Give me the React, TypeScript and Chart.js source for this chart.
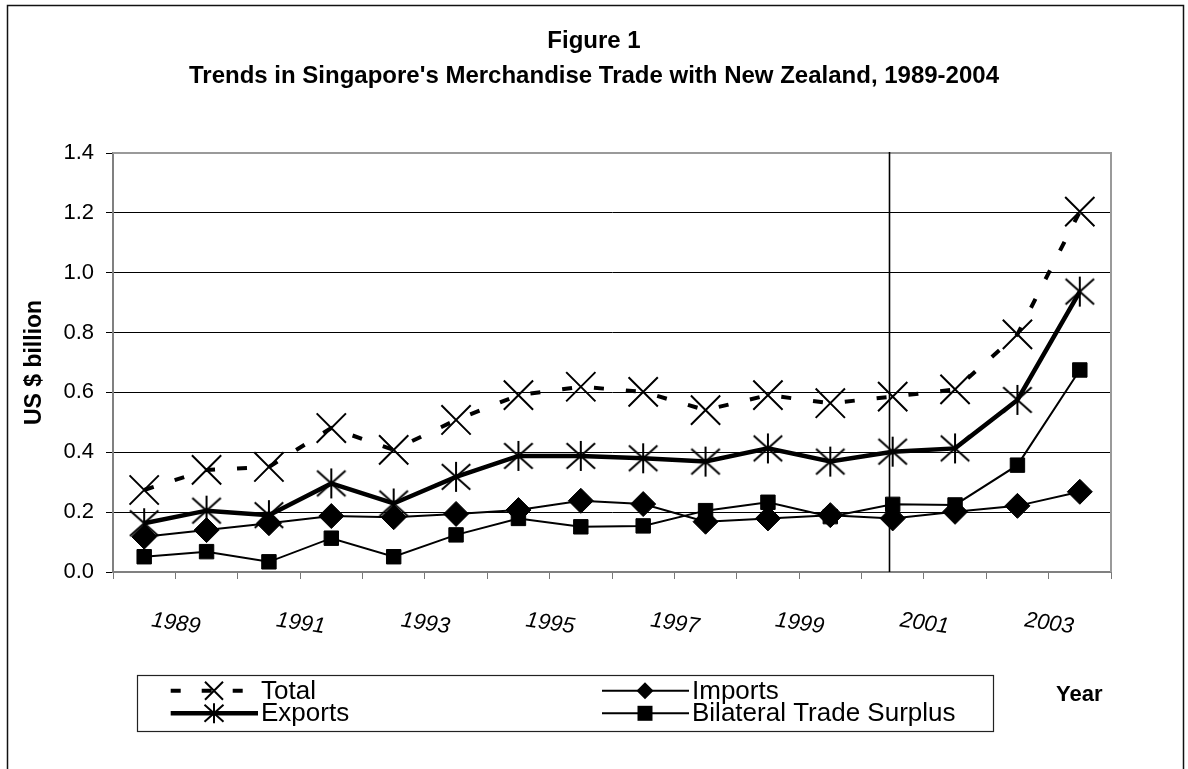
import React, { useEffect, useRef } from 'react';
import { Chart, registerables } from 'chart.js';

Chart.register(...registerables);

// ---------- data ----------
const years = ['1989', '1990', '1991', '1992', '1993', '1994', '1995', '1996', '1997', '1998', '1999', '2000', '2001', '2002', '2003', '2004'];
const totalValues = [0.274, 0.341, 0.351, 0.481, 0.408, 0.508, 0.591, 0.619, 0.602, 0.541, 0.591, 0.564, 0.586, 0.610, 0.794, 1.204];
const exportValues = [0.163, 0.205, 0.190, 0.296, 0.229, 0.318, 0.388, 0.388, 0.380, 0.369, 0.413, 0.369, 0.402, 0.413, 0.575, 0.937];
const importValues = [0.118, 0.140, 0.163, 0.187, 0.183, 0.194, 0.207, 0.238, 0.227, 0.168, 0.179, 0.190, 0.179, 0.201, 0.221, 0.268];
const surplusValues = [0.051, 0.068, 0.034, 0.113, 0.051, 0.124, 0.179, 0.151, 0.154, 0.205, 0.233, 0.185, 0.226, 0.224, 0.357, 0.675];
const seriesNames = ['Total', 'Exports', 'Imports', 'Bilateral Trade Surplus'];
const titleLines = ['Figure 1', "Trends in Singapore's Merchandise Trade with New Zealand, 1989-2004"];
const yAxisTitle = 'US $ billion';
const xAxisTitle = 'Year';
const yMin = 0;
const yMax = 1.4;
const yStep = 0.2;
const dividerIndex = 11.94; // vertical rule drawn just before 2001

const FONT = "'Liberation Sans', Arial, Helvetica, sans-serif";

function makeAsterisk(half: number, lw: number): HTMLCanvasElement {
  const size = Math.ceil(half * 2 + 4);
  const c = document.createElement('canvas');
  c.width = size;
  c.height = size;
  const ctx = c.getContext('2d')!;
  const m = size / 2;
  ctx.strokeStyle = '#000';
  ctx.lineWidth = lw;
  ctx.beginPath();
  ctx.moveTo(m, m - half);
  ctx.lineTo(m, m + half);
  ctx.moveTo(m - half * 0.95, m - half * 0.85);
  ctx.lineTo(m + half * 0.95, m + half * 0.85);
  ctx.moveTo(m + half * 0.95, m - half * 0.85);
  ctx.lineTo(m - half * 0.95, m + half * 0.85);
  ctx.stroke();
  return c;
}

function drawMarker(ctx: CanvasRenderingContext2D, kind: string, x: number, y: number, h: number) {
  ctx.save();
  ctx.strokeStyle = '#000';
  ctx.fillStyle = '#000';
  ctx.setLineDash([]);
  ctx.lineWidth = 2;
  ctx.beginPath();
  if (kind === 'x') {
    ctx.moveTo(x - h, y - h); ctx.lineTo(x + h, y + h);
    ctx.moveTo(x + h, y - h); ctx.lineTo(x - h, y + h);
    ctx.stroke();
  } else if (kind === 'star') {
    ctx.moveTo(x, y - h); ctx.lineTo(x, y + h);
    ctx.moveTo(x - h * 0.95, y - h * 0.85); ctx.lineTo(x + h * 0.95, y + h * 0.85);
    ctx.moveTo(x + h * 0.95, y - h * 0.85); ctx.lineTo(x - h * 0.95, y + h * 0.85);
    ctx.stroke();
  } else if (kind === 'diamond') {
    ctx.moveTo(x - h, y); ctx.lineTo(x, y - h); ctx.lineTo(x + h, y); ctx.lineTo(x, y + h);
    ctx.closePath();
    ctx.fill();
  } else if (kind === 'square') {
    ctx.rect(x - h, y - h, 2 * h, 2 * h);
    ctx.fill();
  }
  ctx.restore();
}

const decorPlugin = {
  id: 'decor',
  beforeDraw(chart: any) {
    const { ctx, width, height } = chart;
    ctx.save();
    ctx.fillStyle = '#fff';
    ctx.fillRect(0, 0, width, height);
    ctx.strokeStyle = '#111';
    ctx.lineWidth = 1.5;
    ctx.strokeRect(7.5, 5.5, 1176, height + 20);
    ctx.restore();
  },
  beforeDatasetsDraw(chart: any) {
    const { ctx, chartArea } = chart;
    const xs = chart.scales.x;
    ctx.save();
    // plot area top/right border
    ctx.strokeStyle = '#9a9a9a';
    ctx.lineWidth = 2;
    ctx.beginPath();
    ctx.moveTo(chartArea.left, chartArea.top);
    ctx.lineTo(chartArea.right, chartArea.top);
    ctx.lineTo(chartArea.right, chartArea.bottom);
    ctx.stroke();
    // vertical divider
    const dx = Math.round(xs.getPixelForValue(dividerIndex)) + 0.5;
    ctx.strokeStyle = '#000';
    ctx.lineWidth = 1.6;
    ctx.beginPath();
    ctx.moveTo(dx, chartArea.top - 1);
    ctx.lineTo(dx, chartArea.bottom);
    ctx.stroke();
    ctx.restore();
  },
  afterDraw(chart: any) {
    const { ctx } = chart;
    ctx.save();
    // legend box
    ctx.strokeStyle = '#222';
    ctx.lineWidth = 1.2;
    ctx.strokeRect(137.5, 675.5, 856, 56);
    const rows = [690.7, 713.3];
    const cols = [{ x0: 170.7, x1: 258, mx: 214, tx: 261 }, { x0: 602, x1: 689, mx: 645, tx: 692 }];
    const items = [
      { name: seriesNames[0], col: 0, row: 0, lw: 4, dash: [10, 21], marker: 'x', mh: 9 },
      { name: seriesNames[1], col: 0, row: 1, lw: 4.5, dash: [], marker: 'star', mh: 10 },
      { name: seriesNames[2], col: 1, row: 0, lw: 2, dash: [], marker: 'diamond', mh: 8.5 },
      { name: seriesNames[3], col: 1, row: 1, lw: 2, dash: [], marker: 'square', mh: 7.5 },
    ];
    ctx.font = `26px ${FONT}`;
    ctx.textBaseline = 'middle';
    ctx.textAlign = 'left';
    for (const it of items) {
      const c = cols[it.col];
      const y = rows[it.row];
      ctx.strokeStyle = '#000';
      ctx.lineWidth = it.lw;
      ctx.setLineDash(it.dash);
      ctx.beginPath();
      ctx.moveTo(c.x0, y);
      ctx.lineTo(c.x1, y);
      ctx.stroke();
      ctx.setLineDash([]);
      drawMarker(ctx, it.marker, c.mx, y, it.mh);
      ctx.fillStyle = '#000';
      ctx.fillText(it.name, c.tx, y + 1);
    }
    // axis title "Year"
    ctx.font = `bold 22px ${FONT}`;
    ctx.textAlign = 'left';
    ctx.fillText(xAxisTitle, 1056, 695);
    ctx.restore();
  },
};

export default function App() {
  const ref = useRef<HTMLCanvasElement | null>(null);

  useEffect(() => {
    const canvas = ref.current;
    if (!canvas) return;
    const asterisk = makeAsterisk(15, 2);

    const chart = new Chart(canvas, {
      type: 'line',
      data: {
        labels: years,
        datasets: [
          {
            label: seriesNames[0],
            data: totalValues,
            borderColor: '#000',
            borderWidth: 4,
            borderDash: [10, 22],
            pointStyle: 'crossRot',
            pointRadius: 20.7,
            pointBorderWidth: 2,
            pointBorderColor: '#000',
            pointBackgroundColor: 'rgba(0,0,0,0)',
            fill: false,
            tension: 0,
          },
          {
            label: seriesNames[1],
            data: exportValues,
            borderColor: '#000',
            borderWidth: 4.5,
            pointStyle: asterisk as any,
            pointRadius: 15,
            fill: false,
            tension: 0,
          },
          {
            label: seriesNames[2],
            data: importValues,
            borderColor: '#000',
            borderWidth: 2,
            pointStyle: 'rectRot',
            pointRadius: 12.5,
            pointBorderWidth: 1,
            pointBorderColor: '#000',
            pointBackgroundColor: '#000',
            fill: false,
            tension: 0,
          },
          {
            label: seriesNames[3],
            data: surplusValues,
            borderColor: '#000',
            borderWidth: 2,
            pointStyle: 'rect',
            pointRadius: 10.2,
            pointBorderWidth: 1,
            pointBorderColor: '#000',
            pointBackgroundColor: '#000',
            fill: false,
            tension: 0,
          },
        ],
      },
      options: {
        responsive: false,
        animation: false,
        devicePixelRatio: 1,
        layout: { padding: { left: 0, right: 0, top: 0, bottom: 0 } },
        plugins: {
          legend: { display: false },
          tooltip: { enabled: false },
          title: {
            display: true,
            text: titleLines,
            color: '#000',
            font: { family: FONT, size: 24, weight: 'bold', lineHeight: 35 / 24 },
            padding: { top: 23.5, bottom: 59.5 },
          },
        },
        scales: {
          x: {
            type: 'category',
            offset: true,
            grid: {
              drawOnChartArea: false,
              drawTicks: true,
              tickLength: 7,
              color: '#777',
              lineWidth: 1,
              offset: true,
            },
            border: { color: '#808080', width: 2 },
            ticks: {
              autoSkip: false,
              minRotation: -8,
              maxRotation: -8,
              labelOffset: 56,
              padding: 35,
              color: '#000',
              font: { family: FONT, size: 22, style: 'italic' },
              callback: (_v: any, i: number) => (i % 2 === 0 ? years[i] : ''),
            },
            afterFit: (s: any) => {
              s.height = 197;
            },
          },
          y: {
            min: yMin,
            max: yMax,
            grid: {
              color: '#000',
              lineWidth: 1,
              drawTicks: true,
              tickLength: 7,
            },
            border: { color: '#808080', width: 2 },
            ticks: {
              stepSize: yStep,
              padding: 12,
              color: '#000',
              font: { family: FONT, size: 22 },
              callback: (v: any) => Number(v).toFixed(1),
            },
            title: {
              display: true,
              text: yAxisTitle,
              color: '#000',
              font: { family: FONT, size: 23, weight: 'bold' },
              padding: { top: 20.4, bottom: 0 },
            },
            afterFit: (s: any) => {
              s.width = 113;
            },
          },
          // empty right-hand axis: only reserves the margin right of the plot
          yRight: {
            type: 'linear',
            position: 'right',
            display: true,
            grid: { drawOnChartArea: false, drawTicks: false },
            border: { display: false },
            ticks: { display: false },
            afterFit: (s: any) => {
              s.width = 77;
            },
          },
        },
      } as any,
      plugins: [decorPlugin],
    });

    return () => {
      chart.destroy();
    };
  }, []);

  return (
    <div style={{ position: 'fixed', left: 0, top: 0, width: 1188, height: 769, background: '#fff' }}>
      <canvas ref={ref} width={1188} height={769} style={{ display: 'block', width: 1188, height: 769 }} />
    </div>
  );
}
